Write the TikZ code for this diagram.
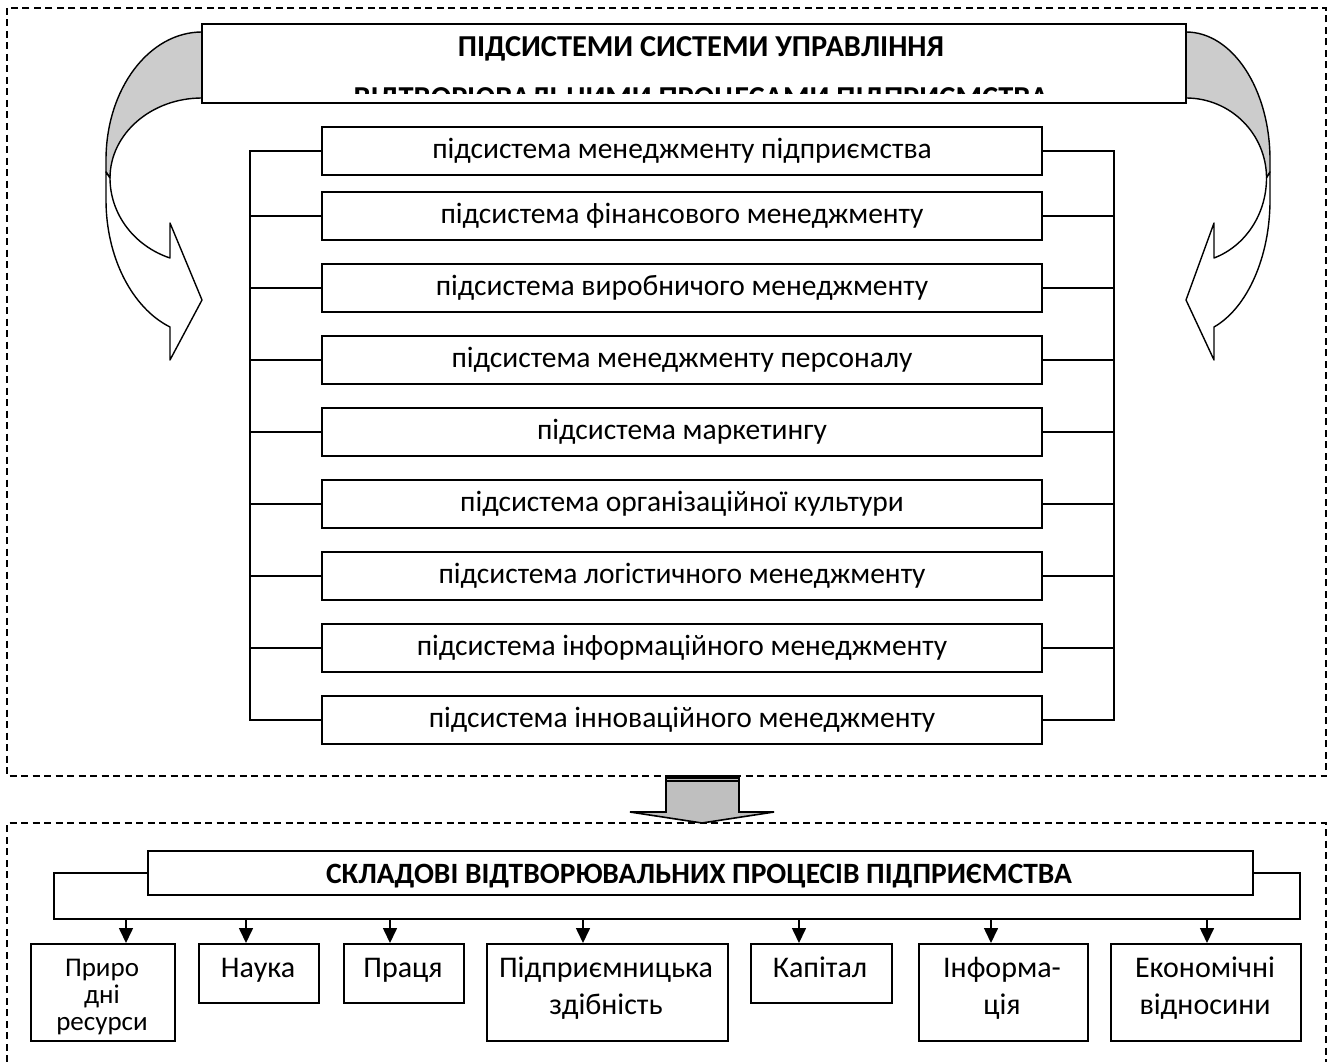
\documentclass[tikz,border=0pt]{standalone}
\usepackage{fontspec}
\setmainfont{Carlito}
\usetikzlibrary{arrows.meta}
\newcommand{\cvarrowshape}{%
  \filldraw[band, fill=black!20] (0,32) .. controls (-53,32) and (-96,89) .. (-96,160) -- (-96,172) -- (-92,178) .. controls (-92,134) and (-51,98) .. (0,98);
  \filldraw[band, fill=white] (-96,172) -- (-96,200) .. controls (-96,257) and (-70,308) .. (-32,327) -- (-32,360) -- (0,300) -- (-32,223) -- (-32,258) .. controls (-68,246) and (-92,214) .. (-92,178) -- cycle;
}
\begin{document}
\begin{tikzpicture}[x=1pt,y=-1pt,
  frame/.style={draw, dash pattern=on 7pt off 4.5pt, line width=1.2pt},
  ln/.style={line width=1.6pt},
  band/.style={line width=1.4pt, line join=round},
  subbox/.style={draw, line width=1.6pt, fill=white, minimum width=720pt, minimum height=48pt, inner sep=0pt, font=\fontsize{29.5}{34}\selectfont},
  arr/.style={line width=1.6pt, -{Triangle[length=15pt,width=14pt]}},
  pbox/.style={draw, line width=1.6pt, inner sep=0pt, anchor=north west},
  ptext/.style={align=center, anchor=base, inner sep=0pt, font=\fontsize{30}{37}\selectfont},
  ttext/.style={inner sep=0pt, anchor=base, font=\bfseries\fontsize{30.4}{34}\selectfont}
]
\useasboundingbox (0,0) rectangle (1335,1062);
\fill[white] (0,0) rectangle (1335,1062);

% dashed frames
\draw[frame] (7,8) rectangle (1326,776);
\draw[frame] (7,1062) -- (7,823) -- (1326,823) -- (1326,1062);

% curved arrows
\begin{scope}[shift={(202,0)}]
  \cvarrowshape
\end{scope}
\begin{scope}[shift={(1186,0)}, xscale=-0.875]
  \cvarrowshape
\end{scope}

% title box
\node[draw, ln, fill=white, minimum width=984pt, minimum height=79pt, inner sep=0pt] (tb) at (694,63.5) {};
\node[ttext] (t1) at (701,56.5) {ПІДСИСТЕМИ СИСТЕМИ УПРАВЛІННЯ};
\begin{scope}
  \clip (204,26) rectangle (1184,94);
  \node[ttext] (t2) at (701,107.5) {ВІДТВОРЮВАЛЬНИМИ ПРОЦЕСАМИ ПІДПРИЄМСТВА};
\end{scope}

% subsystems
\node[subbox] (s1) at (682,151) {підсистема менеджменту підприємства};
\node[subbox] (s2) at (682,216) {підсистема фінансового менеджменту};
\node[subbox] (s3) at (682,288) {підсистема виробничого менеджменту};
\node[subbox] (s4) at (682,360) {підсистема менеджменту персоналу};
\node[subbox] (s5) at (682,432) {підсистема маркетингу};
\node[subbox] (s6) at (682,504) {підсистема організаційної культури};
\node[subbox] (s7) at (682,576) {підсистема логістичного менеджменту};
\node[subbox] (s8) at (682,648) {підсистема інформаційного менеджменту};
\node[subbox] (s9) at (682,720) {підсистема інноваційного менеджменту};

\coordinate (bl) at (250,0);
\coordinate (br) at (1114,0);
\draw[ln] (s1.west) -- (s1.west -| bl) -- (s9.west -| bl) -- (s9.west);
\draw[ln] (s1.east) -- (s1.east -| br) -- (s9.east -| br) -- (s9.east);
\foreach \i in {2,...,8} {
  \draw[ln] (s\i.west) -- (s\i.west -| bl);
  \draw[ln] (s\i.east) -- (s\i.east -| br);
}

% middle block arrow
\filldraw[ln, fill=black!25, line join=miter] (666,778) -- (739,778) -- (739,812) -- (774,812) -- (702,823) -- (630,812) -- (666,812) -- cycle;
\draw[line width=2.5pt] (665,776.5) -- (740,776.5);
\draw[line width=1.4pt] (666,781) -- (739,781);

% bottom title
\node[draw, ln, fill=white, minimum width=1105pt, minimum height=44pt, inner sep=0pt] (bt) at (700.5,873) {};
\node[ttext, font=\bfseries\fontsize{29.5}{34}\selectfont] (bttext) at (699,883) {СКЛАДОВІ ВІДТВОРЮВАЛЬНИХ ПРОЦЕСІВ ПІДПРИЄМСТВА};

% components
\node[pbox, minimum width=144pt, minimum height=97pt] (p1) at (30,943) {};
\node[pbox, minimum width=120pt, minimum height=59pt] (p2) at (198,943) {};
\node[pbox, minimum width=120pt, minimum height=59pt] (p3) at (343,943) {};
\node[pbox, minimum width=241pt, minimum height=97pt] (p4) at (486,943) {};
\node[pbox, minimum width=141pt, minimum height=59pt] (p5) at (750,943) {};
\node[pbox, minimum width=169pt, minimum height=97pt] (p6) at (918,943) {};
\node[pbox, minimum width=190pt, minimum height=97pt] (p7) at (1110,943) {};

\node[ptext, font=\fontsize{27}{27}\selectfont] (l1) at (102,1030) {Приро\\дні\\ресурси};
\node[ptext] (l2) at (258,977) {Наука};
\node[ptext] (l3) at (403,977) {Праця};
\node[ptext] (l4) at (606,1014) {Підприємницька\\здібність};
\node[ptext] (l5) at (820,977) {Капітал};
\node[ptext] (l6) at (1002,1014) {Інформа-\\ція};
\node[ptext] (l7) at (1205,1014) {Економічні\\відносини};

\coordinate (bL) at (54,919);
\coordinate (bR) at (1300,919);
\draw[ln] (bt.west) -| (bL) -- (bR) |- (bt.east);
\coordinate (a1) at (126,919);
\coordinate (a2) at (246,919);
\coordinate (a3) at (390,919);
\coordinate (a4) at (583,919);
\coordinate (a5) at (799,919);
\coordinate (a6) at (991,919);
\coordinate (a7) at (1207,919);
\foreach \i in {1,...,7} {
  \draw[arr] (a\i) -- (a\i |- p\i.north);
}
\end{tikzpicture}
\end{document}
